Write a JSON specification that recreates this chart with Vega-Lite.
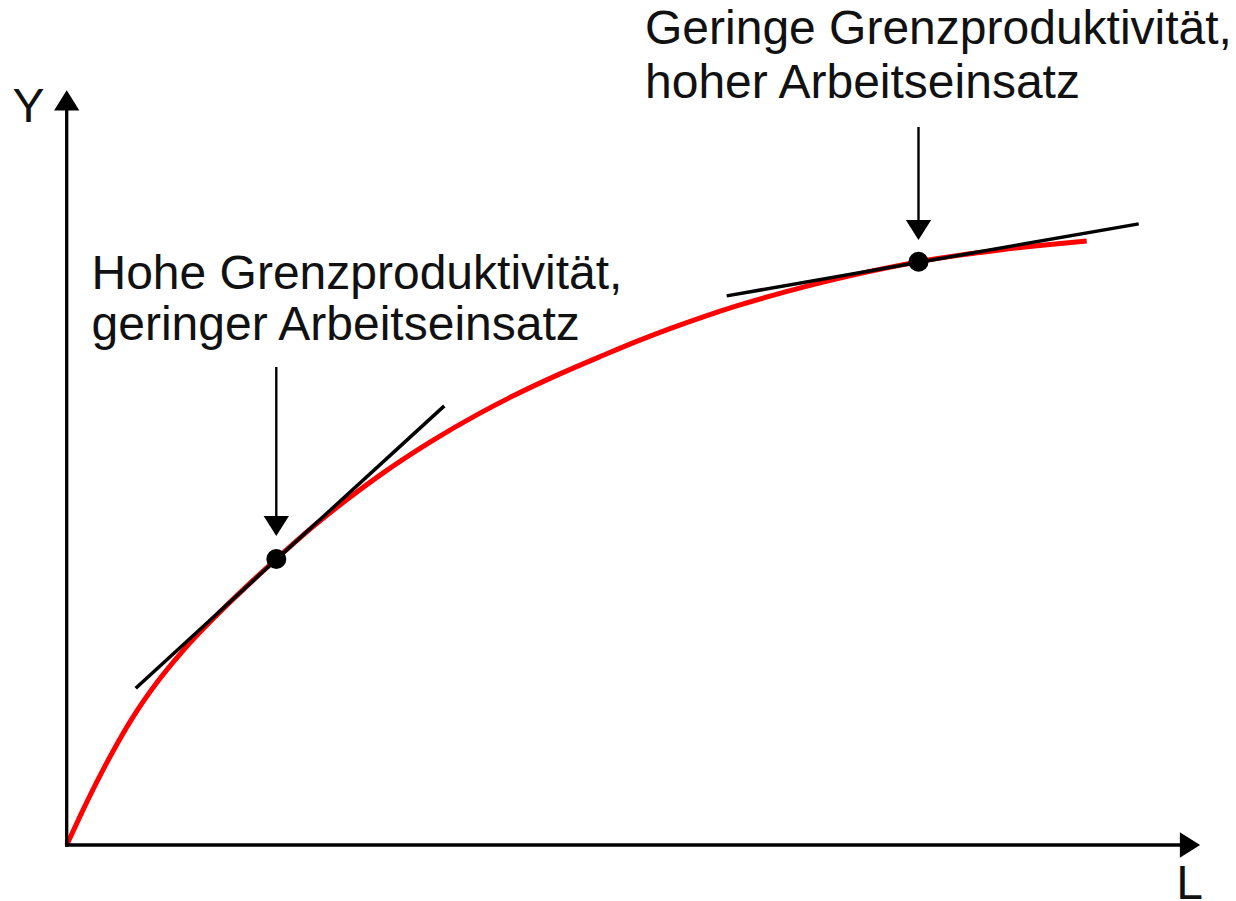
{
  "$schema": "https://vega.github.io/schema/vega-lite/v6.json",
  "width": 1236,
  "height": 901,
  "autosize": "none",
  "padding": 0,
  "background": "white",
  "config": {"view": {"stroke": null}},
  "datasets": {
    "curve": [
      {"L": 0, "Y": 0},
      {"L": 0.133, "Y": 0.286},
      {"L": 0.300, "Y": 0.628},
      {"L": 0.466, "Y": 0.943},
      {"L": 0.650, "Y": 1.259},
      {"L": 0.900, "Y": 1.622},
      {"L": 1.166, "Y": 1.947},
      {"L": 1.500, "Y": 2.298},
      {"L": 1.866, "Y": 2.649},
      {"L": 2.096, "Y": 2.860},
      {"L": 2.466, "Y": 3.186},
      {"L": 2.800, "Y": 3.453},
      {"L": 3.133, "Y": 3.699},
      {"L": 3.633, "Y": 4.029},
      {"L": 4.133, "Y": 4.319},
      {"L": 4.466, "Y": 4.492},
      {"L": 4.933, "Y": 4.711},
      {"L": 5.366, "Y": 4.897},
      {"L": 5.700, "Y": 5.036},
      {"L": 6.033, "Y": 5.164},
      {"L": 6.366, "Y": 5.282},
      {"L": 6.700, "Y": 5.391},
      {"L": 7.033, "Y": 5.489},
      {"L": 7.366, "Y": 5.579},
      {"L": 7.700, "Y": 5.661},
      {"L": 8.033, "Y": 5.736},
      {"L": 8.366, "Y": 5.804},
      {"L": 8.518, "Y": 5.833},
      {"L": 8.933, "Y": 5.899},
      {"L": 9.333, "Y": 5.951},
      {"L": 9.833, "Y": 6.006},
      {"L": 10.200, "Y": 6.041}
    ],
    "tangents": [
      {"L": 0.690, "Y": 1.568, "L2": 3.776, "Y2": 4.391},
      {"L": 6.600, "Y": 5.491, "L2": 10.720, "Y2": 6.211}
    ],
    "axes": [
      {"L": 0, "Y": 0, "L2": 0, "Y2": 7.36},
      {"L": 0, "Y": 0, "L2": 11.14, "Y2": 0}
    ],
    "pointers": [
      {"L": 2.096, "Y": 4.78, "L2": 2.096, "Y2": 3.28},
      {"L": 8.518, "Y": 7.18, "L2": 8.518, "Y2": 6.24}
    ],
    "headUp": [{"L": 0, "Y": 7.447}],
    "headRight": [{"L": 11.233, "Y": 0}],
    "headDown": [{"L": 2.096, "Y": 3.19}, {"L": 8.518, "Y": 6.15}],
    "dots": [{"L": 2.096, "Y": 2.86}, {"L": 8.518, "Y": 5.833}],
    "labels": [
      {"L": 0.248, "Y": 5.56, "text": "Hohe Grenzproduktivität,"},
      {"L": 0.248, "Y": 5.05, "text": "geringer Arbeitseinsatz"},
      {"L": 5.783, "Y": 8.01, "text": "Geringe Grenzproduktivität,"},
      {"L": 5.783, "Y": 7.47, "text": "hoher Arbeitseinsatz"}
    ],
    "axisTitles": [
      {"L": -0.382, "Y": 7.23, "text": "Y"},
      {"L": 11.23, "Y": -0.535, "text": "L"}
    ]
  },
  "layer": [
    {
      "data": {"name": "curve"},
      "mark": {"type": "line", "color": "#ff0000", "strokeWidth": 5, "interpolate": "monotone", "strokeCap": "butt"},
      "encoding": {
        "x": {"field": "L", "type": "quantitative", "axis": null, "scale": {"domain": [-0.667, 11.693], "nice": false, "zero": false}},
        "y": {"field": "Y", "type": "quantitative", "axis": null, "scale": {"domain": [-0.56, 8.45], "nice": false, "zero": false}}
      }
    },
    {
      "data": {"name": "axes"},
      "mark": {"type": "rule", "color": "black", "strokeWidth": 3.3, "strokeCap": "square"},
      "encoding": {
        "x": {"field": "L", "type": "quantitative", "axis": null, "scale": {"domain": [-0.667, 11.693], "nice": false, "zero": false}},
        "y": {"field": "Y", "type": "quantitative", "axis": null, "scale": {"domain": [-0.56, 8.45], "nice": false, "zero": false}},
        "x2": {"field": "L2"},
        "y2": {"field": "Y2"}
      }
    },
    {
      "data": {"name": "tangents"},
      "mark": {"type": "rule", "color": "black", "strokeWidth": 3.5},
      "encoding": {
        "x": {"field": "L", "type": "quantitative", "axis": null, "scale": {"domain": [-0.667, 11.693], "nice": false, "zero": false}},
        "y": {"field": "Y", "type": "quantitative", "axis": null, "scale": {"domain": [-0.56, 8.45], "nice": false, "zero": false}},
        "x2": {"field": "L2"},
        "y2": {"field": "Y2"}
      }
    },
    {
      "data": {"name": "pointers"},
      "mark": {"type": "rule", "color": "black", "strokeWidth": 2.4},
      "encoding": {
        "x": {"field": "L", "type": "quantitative", "axis": null, "scale": {"domain": [-0.667, 11.693], "nice": false, "zero": false}},
        "y": {"field": "Y", "type": "quantitative", "axis": null, "scale": {"domain": [-0.56, 8.45], "nice": false, "zero": false}},
        "x2": {"field": "L2"},
        "y2": {"field": "Y2"}
      }
    },
    {
      "data": {"name": "headUp"},
      "mark": {"type": "point", "shape": "M0,-0.8L1,0.8L-1,0.8Z", "filled": true, "size": 640, "color": "black", "opacity": 1, "strokeWidth": 0},
      "encoding": {
        "x": {"field": "L", "type": "quantitative", "axis": null, "scale": {"domain": [-0.667, 11.693], "nice": false, "zero": false}},
        "y": {"field": "Y", "type": "quantitative", "axis": null, "scale": {"domain": [-0.56, 8.45], "nice": false, "zero": false}}
      }
    },
    {
      "data": {"name": "headRight"},
      "mark": {"type": "point", "shape": "M0.8,0L-0.8,-1L-0.8,1Z", "filled": true, "size": 640, "color": "black", "opacity": 1, "strokeWidth": 0},
      "encoding": {
        "x": {"field": "L", "type": "quantitative", "axis": null, "scale": {"domain": [-0.667, 11.693], "nice": false, "zero": false}},
        "y": {"field": "Y", "type": "quantitative", "axis": null, "scale": {"domain": [-0.56, 8.45], "nice": false, "zero": false}}
      }
    },
    {
      "data": {"name": "headDown"},
      "mark": {"type": "point", "shape": "M0,0.8L-1,-0.8L1,-0.8Z", "filled": true, "size": 640, "color": "black", "opacity": 1, "strokeWidth": 0},
      "encoding": {
        "x": {"field": "L", "type": "quantitative", "axis": null, "scale": {"domain": [-0.667, 11.693], "nice": false, "zero": false}},
        "y": {"field": "Y", "type": "quantitative", "axis": null, "scale": {"domain": [-0.56, 8.45], "nice": false, "zero": false}}
      }
    },
    {
      "data": {"name": "dots"},
      "mark": {"type": "point", "shape": "circle", "filled": true, "size": 400, "color": "black", "opacity": 1, "strokeWidth": 0},
      "encoding": {
        "x": {"field": "L", "type": "quantitative", "axis": null, "scale": {"domain": [-0.667, 11.693], "nice": false, "zero": false}},
        "y": {"field": "Y", "type": "quantitative", "axis": null, "scale": {"domain": [-0.56, 8.45], "nice": false, "zero": false}}
      }
    },
    {
      "data": {"name": "labels"},
      "mark": {"type": "text", "align": "left", "baseline": "alphabetic", "font": "Liberation Sans", "fontSize": 48, "color": "#111111"},
      "encoding": {
        "x": {"field": "L", "type": "quantitative", "axis": null, "scale": {"domain": [-0.667, 11.693], "nice": false, "zero": false}},
        "y": {"field": "Y", "type": "quantitative", "axis": null, "scale": {"domain": [-0.56, 8.45], "nice": false, "zero": false}},
        "text": {"field": "text", "type": "nominal"}
      }
    },
    {
      "data": {"name": "axisTitles"},
      "mark": {"type": "text", "align": "center", "baseline": "alphabetic", "font": "Liberation Sans", "fontSize": 48, "color": "#111111"},
      "encoding": {
        "x": {"field": "L", "type": "quantitative", "axis": null, "scale": {"domain": [-0.667, 11.693], "nice": false, "zero": false}},
        "y": {"field": "Y", "type": "quantitative", "axis": null, "scale": {"domain": [-0.56, 8.45], "nice": false, "zero": false}},
        "text": {"field": "text", "type": "nominal"}
      }
    }
  ]
}
